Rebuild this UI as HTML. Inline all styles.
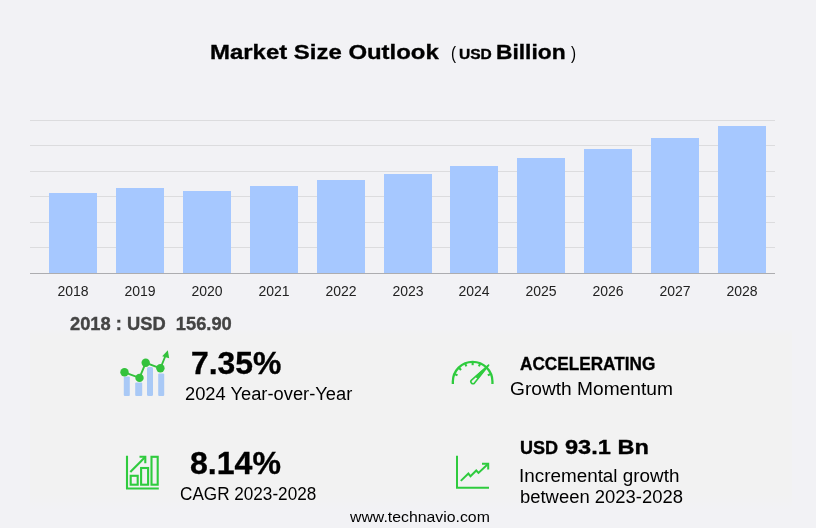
<!DOCTYPE html>
<html lang="en">
<head>
<meta charset="utf-8">
<title>Market Size Outlook</title>
<style>
html,body{margin:0;padding:0;}
body{width:816px;height:528px;background:#f2f2f5;position:relative;overflow:hidden;font-family:"Liberation Sans",sans-serif;color:#000;}
.abs{position:absolute;white-space:nowrap;line-height:1;transform-origin:0 0;}
.grid{position:absolute;left:30px;width:745px;height:1px;background:#dcdcde;}
.bar{position:absolute;width:48px;background:#a6c8ff;}
.yr{position:absolute;width:60px;text-align:center;font-size:14px;color:#222;top:283px;line-height:16px;}
.panel{position:absolute;left:30px;top:330px;width:762px;height:180px;background:linear-gradient(to bottom,#f2f2f4 0px,#f2f2f2 5px,#f2f2f2 165px,#f2f2f5 180px);}
.b{font-weight:bold;-webkit-text-stroke:0.35px currentColor;}
</style>
</head>
<body>
<div class="panel"></div>

<div class="abs b" id="t1" style="left:210.4px;top:41px;font-size:21px;transform:scaleX(1.14);">Market Size Outlook</div>
<div class="abs" id="t2" style="left:451px;top:42.5px;font-size:19px;transform:scaleX(0.8);">(</div>
<div class="abs b" id="t3" style="left:459px;top:46.8px;font-size:14px;transform:scaleX(1.11);">USD</div>
<div class="abs b" id="t4" style="left:496px;top:41px;font-size:21px;transform:scaleX(1.084);">Billion</div>
<div class="abs" id="t5" style="left:571px;top:42.5px;font-size:19px;transform:scaleX(0.8);">)</div>

<div class="grid" style="top:120px"></div>
<div class="grid" style="top:145px"></div>
<div class="grid" style="top:171px"></div>
<div class="grid" style="top:196px"></div>
<div class="grid" style="top:222px"></div>
<div class="grid" style="top:247px"></div>

<div class="bar" style="left:49px;top:193px;height:80px"></div>
<div class="bar" style="left:116px;top:188px;height:85px"></div>
<div class="bar" style="left:183px;top:191px;height:82px"></div>
<div class="bar" style="left:250px;top:186px;height:87px"></div>
<div class="bar" style="left:317px;top:180px;height:93px"></div>
<div class="bar" style="left:384px;top:174px;height:99px"></div>
<div class="bar" style="left:450px;top:166px;height:107px"></div>
<div class="bar" style="left:517px;top:158px;height:115px"></div>
<div class="bar" style="left:584px;top:149px;height:124px"></div>
<div class="bar" style="left:651px;top:138px;height:135px"></div>
<div class="bar" style="left:718px;top:126px;height:147px"></div>
<div class="grid" style="top:273px;background:#adadb0"></div>

<div class="yr" style="left:43px">2018</div>
<div class="yr" style="left:110px">2019</div>
<div class="yr" style="left:177px">2020</div>
<div class="yr" style="left:244px">2021</div>
<div class="yr" style="left:311px">2022</div>
<div class="yr" style="left:378px">2023</div>
<div class="yr" style="left:444px">2024</div>
<div class="yr" style="left:511px">2025</div>
<div class="yr" style="left:578px">2026</div>
<div class="yr" style="left:645px">2027</div>
<div class="yr" style="left:712px">2028</div>

<div class="abs b" id="s0" style="left:69.8px;top:315.5px;font-size:17.5px;color:#444;transform:scaleX(1.046);">2018 : USD&nbsp; 156.90</div>

<div class="abs b" id="s1" style="left:190.5px;top:347.5px;font-size:31px;transform:scaleX(1.028);">7.35%</div>
<div class="abs" id="s2" style="left:185.2px;top:385px;font-size:18px;transform:scaleX(1.017);">2024 Year-over-Year</div>

<div class="abs b" id="s3" style="left:520.3px;top:354.7px;font-size:18px;transform:scaleX(0.955);">ACCELERATING</div>
<div class="abs" id="s4" style="left:509.5px;top:379.7px;font-size:18px;transform:scaleX(1.064);">Growth Momentum</div>

<div class="abs b" id="s5" style="left:190.3px;top:448px;font-size:31px;transform:scaleX(1.034);">8.14%</div>
<div class="abs" id="s6" style="left:179.8px;top:485px;font-size:18px;transform:scaleX(0.952);">CAGR 2023-2028</div>

<div class="abs b" id="s7a" style="left:519.6px;top:439.5px;font-size:17.5px;transform:scaleX(1.03);">USD</div>
<div class="abs b" id="s7b" style="left:565px;top:436.5px;font-size:20.5px;transform:scaleX(1.149);">93.1 Bn</div>
<div class="abs" id="s8" style="left:518.6px;top:467px;font-size:18px;transform:scaleX(1.048);">Incremental growth</div>
<div class="abs" id="s9" style="left:519.6px;top:488px;font-size:18px;transform:scaleX(1.024);">between 2023-2028</div>

<div class="abs" id="s10" style="left:350.3px;top:508.5px;font-size:15px;transform:scaleX(1.055);">www.technavio.com</div>

<svg class="icons" width="816" height="528" viewBox="0 0 816 528" style="position:absolute;left:0;top:0;pointer-events:none">
<!-- icon 1: yoy -->
<g fill="#a9c9f6">
<rect x="123.8" y="376.5" width="6" height="19.5" rx="1"/>
<rect x="135.2" y="382.5" width="7" height="13.5" rx="1"/>
<rect x="147" y="367" width="6" height="29" rx="1.5"/>
<rect x="158.2" y="373.5" width="6" height="22.5" rx="1"/>
</g>
<g fill="#33c23c" stroke="#33c23c">
<polyline points="124.5,372.3 139.5,377.9 145.7,362.8 160.4,368.3 166,354.5" fill="none" stroke-width="1.9"/>
<circle cx="124.5" cy="372.3" r="4.2" stroke="none"/>
<circle cx="139.5" cy="377.9" r="4.2" stroke="none"/>
<circle cx="145.7" cy="362.8" r="4.2" stroke="none"/>
<circle cx="160.4" cy="368.3" r="4.2" stroke="none"/>
<polygon points="167.8,350.3 162.2,356.2 169.2,358.2" stroke="none"/>
</g>
<!-- icon 2: cagr -->
<g fill="none" stroke="#2fcb3e" stroke-width="2.1">
<polyline points="127,455.7 127,488.5 158.8,488.5"/>
<rect x="130.7" y="475.8" width="7" height="8.9"/>
<rect x="141.1" y="468" width="7" height="16.7"/>
<rect x="151.5" y="456.8" width="6.2" height="27.9"/>
<polyline points="130.3,472 145.2,456.9"/>
<polyline points="139.5,456.7 145.3,456.7 145.3,463.2"/>
</g>
<!-- icon 3: gauge -->
<g fill="none" stroke="#2fcb3e" stroke-width="2.3">
<path d="M452.85,384.1 V381.6 A19.8,19.8 0 0 1 492.45,381.6 V384.1"/>
<g stroke-width="2.1"><line x1="457.50" y1="375.32" x2="454.63" y2="374.14"/><line x1="461.05" y1="370.00" x2="458.86" y2="367.81"/><line x1="466.37" y1="366.45" x2="465.19" y2="363.58"/><line x1="472.65" y1="365.20" x2="472.65" y2="362.10"/><line x1="478.93" y1="366.45" x2="480.11" y2="363.58"/><line x1="487.80" y1="375.32" x2="490.67" y2="374.14"/></g>
<path d="M488.6,365.2 L471.5,380.1 A2.1,2.1 0 0 0 474.5,383.1 Z" stroke-width="1.6" stroke-linejoin="round"/>
<path d="M488.6,365.2 L475.5,376.3 L477.8,378.6 Z" fill="#2fcb3e" stroke-width="1"/>
</g>
<!-- icon 4: incremental -->
<g fill="none" stroke="#2fcb3e" stroke-width="2">
<polyline points="457,455.7 457,487.7 489,487.7"/>
<polyline points="460.8,480.9 468.4,473.6 470.5,476.25 476.25,470.5 478.5,472.9 487.7,464.3"/>
<polyline points="482,463.75 488.2,463.75 488.2,469.5"/>
</g>
</svg>
</body>
</html>
